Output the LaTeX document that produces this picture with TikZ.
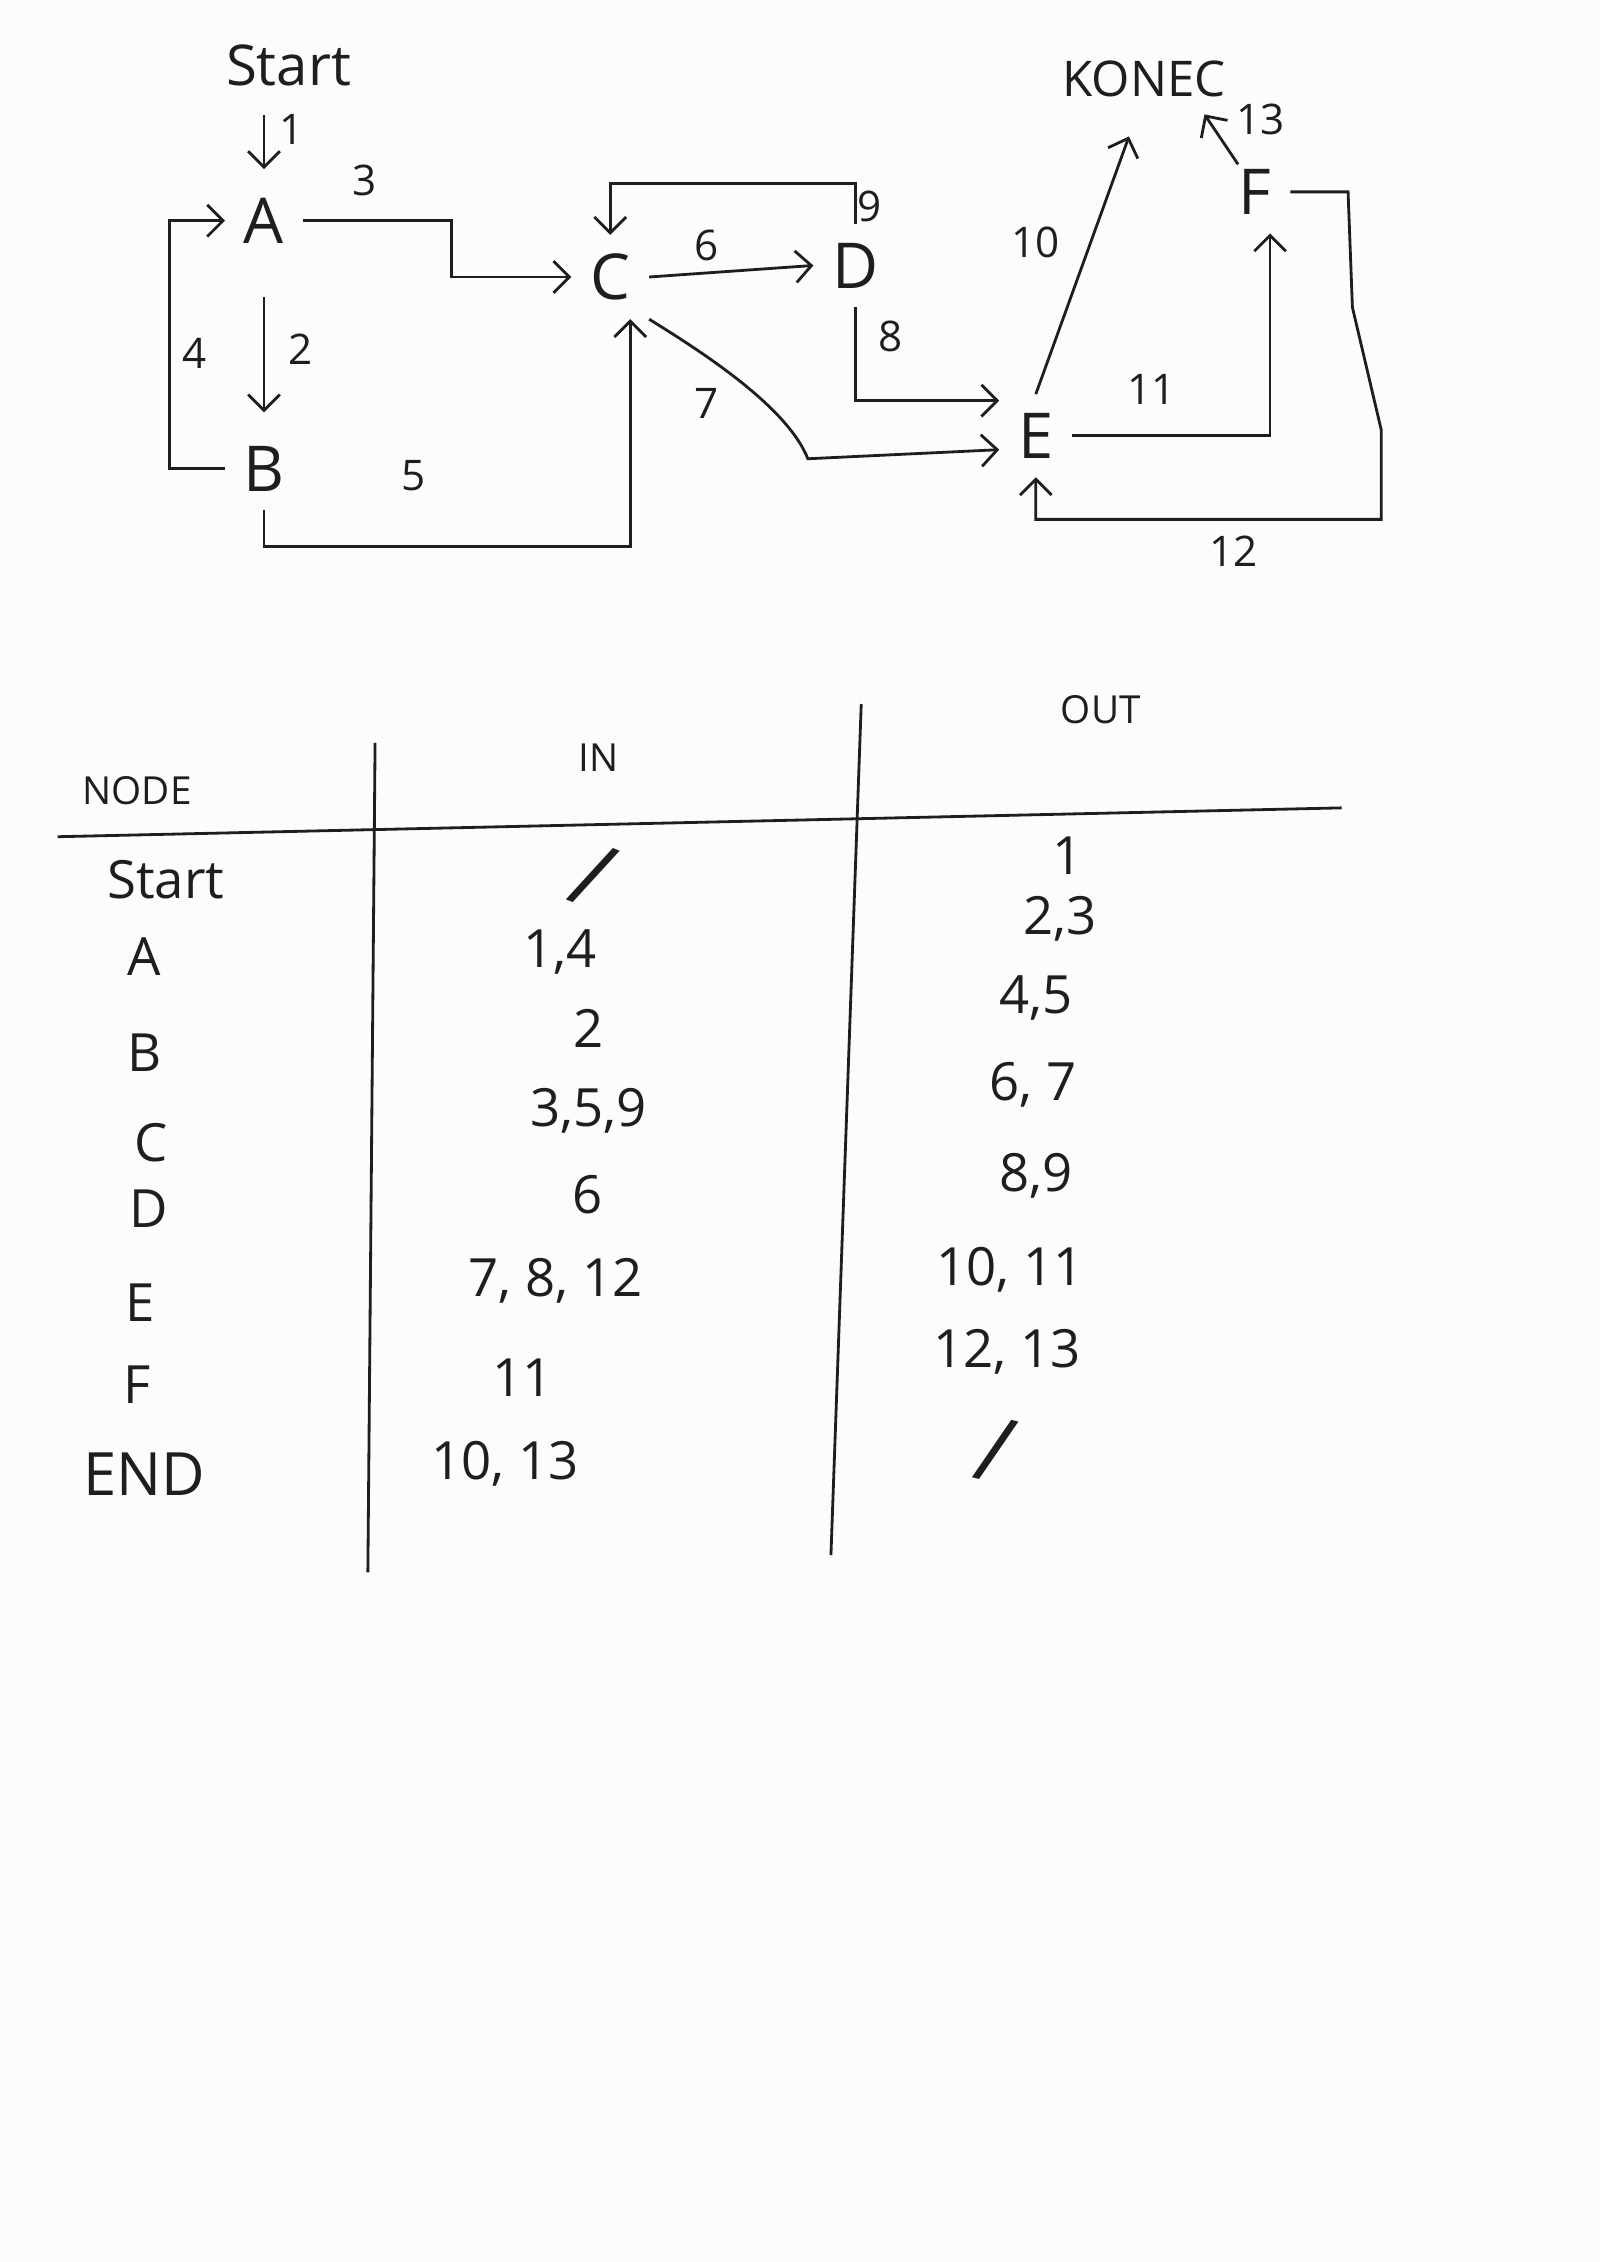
\documentclass[tikz,border=0pt]{standalone}
\usepackage{fontspec}
\setmainfont{Open Sans}
\usetikzlibrary{arrows.meta}
\definecolor{paper}{RGB}{252,252,252}
\definecolor{ink}{RGB}{30,30,30}

\begin{document}
\begin{tikzpicture}
	[x=0.14427mm, y=-0.14427mm, thick, color=ink, >={Straight Barb[length=4.5pt,width=9pt]},
	main/.style = {inner sep=5pt, font=\fontsize{18}{18}\selectfont},
	lbl/.style = {inner sep=1pt, font=\fontsize{12}{12}\selectfont},
	cell/.style = {inner sep=1pt, font=\fontsize{15}{15}\selectfont},
	head/.style = {inner sep=1pt, font=\fontsize{11}{11}\selectfont}]
	\fill[paper] (0,0) rectangle (1109,1568);
	\node[main, font=\fontsize{16}{16}\selectfont] (start) at (200,45) {Start};
	\node[main] (A) at (183,153) {A};
	\node[main] (B) at (183,325) {B};
	\node[main] (C) at (423,192) {C};
	\node[main] (D) at (593,184) {D};
	\node[main] (E) at (718,302) {E};
	\node[main] (F) at (870,133) {F};
	\node[main, font=\fontsize{14}{14}\selectfont] (konec) at (793,55) {KONEC};
	\node[lbl] (l1) at (202,90) {1};
	\node[lbl] (l2) at (208,242) {2};
	\node[lbl] (l3) at (253,125) {3};
	\node[lbl] (l4) at (135,245) {4};
	\node[lbl] (l5) at (287,330) {5};
	\node[lbl] (l6) at (490,170) {6};
	\node[lbl] (l7) at (490,280) {7};
	\node[lbl] (l8) at (617,233) {8};
	\node[lbl] (l9) at (603,143) {9};
	\node[lbl] (l10) at (718,168) {10};
	\node[lbl] (l11) at (798,270) {11};
	\node[lbl] (l12) at (855,382) {12};
	\node[lbl] (l13) at (874,83) {13};
	\draw[->, shorten <=1mm, shorten >=1mm] (start.south -| A) -- (A);
	\draw[->, shorten <=3.5mm, shorten >=1.5mm] (A) -- (B);
	\draw[->] (A.east) -- ++(103,0) |- (C.west);
	\draw[->] (B.west) -- ++(-38,0) |- (A.west);
	\draw[->] (B.south) -- ++(0,25) -| ([xshift=2mm]C.south);
	\draw[->] (C.east) -- (D.west);
	\draw[->] (C.south east) .. controls (480,240) and (545,280) .. (560,318) -- ([yshift=-1.4mm]E.west);
	\draw[->] (D.south) |- ([yshift=3.5mm]E.west);
	\draw[->] (D.north) -- ++(0,-28) -| (C.north);
	\draw[->] (E.north) -- ([xshift=-1.5mm,yshift=-2mm]konec.south);
	\draw[->] (E.east) -| ([xshift=1.5mm]F.south);
	\draw[->] (F.east) -- ++(40,0) -- ++(3,80) -- ++(20,85) -- ++(0,62) -| (E.south);
	\draw[->] ([xshift=-1.7mm,yshift=-1.4mm]F.north) -- ([xshift=-4mm,yshift=0.2mm]konec.south east);
	\draw (40,580) -- (930,560);
	\draw (260,515) -- (255,1090);
	\draw (597,488) -- (576,1078);
	\node[head] (hnode) at (95,548) {NODE};
	\node[head] (hin) at (415,525) {IN};
	\node[head] (hout) at (763,492) {OUT};
	\node[cell] (nStart) at (115,610) {Start};
	\node[cell] (nA) at (100,663) {A};
	\node[cell] (nB) at (100,730) {B};
	\node[cell] (nC) at (105,792) {C};
	\node[cell] (nD) at (103,838) {D};
	\node[cell] (nE) at (97,903) {E};
	\node[cell] (nF) at (95,960) {F};
	\node[cell, font=\fontsize{17}{17}\selectfont] (nEnd) at (100,1022) {END};
	\node[cell, font=\fontsize{26}{26}\selectfont, rotate=-22] (inStart) at (411,607) {/};
	\node[cell] (inA) at (388,660) {1,4};
	\node[cell] (inB) at (408,713) {2};
	\node[cell] (inC) at (408,770) {3,5,9};
	\node[cell] (inD) at (407,828) {6};
	\node[cell] (inE) at (385,888) {7, 8, 12};
	\node[cell] (inF) at (362,955) {11};
	\node[cell] (inEnd) at (350,1015) {10, 13};
	\node[cell] (outStart) at (740,593) {1};
	\node[cell] (outA) at (735,637) {2,3};
	\node[cell] (outB) at (718,692) {4,5};
	\node[cell] (outC) at (716,752) {6, 7};
	\node[cell] (outD) at (718,815) {8,9};
	\node[cell] (outE) at (700,880) {10, 11};
	\node[cell] (outF) at (698,937) {12, 13};
	\node[cell, font=\fontsize{26}{26}\selectfont, rotate=-14] (outEnd) at (690,1005) {/};
\end{tikzpicture}
\end{document}
